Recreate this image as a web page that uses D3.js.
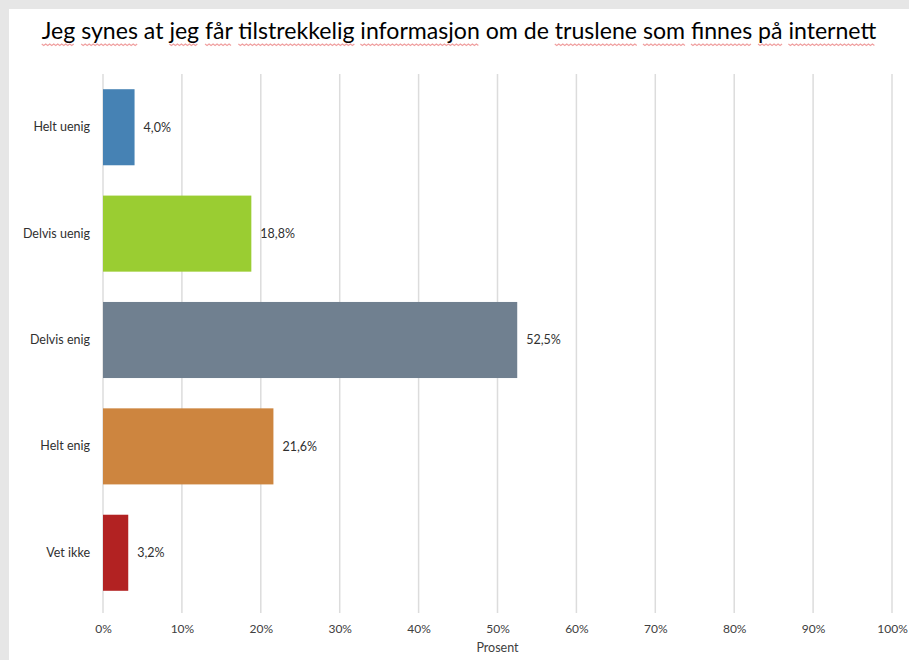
<!DOCTYPE html>
<html>
<head>
<meta charset="utf-8">
<script src="https://cdn.jsdelivr.net/npm/d3@7"></script>
<style>
  html, body { margin: 0; background: #fff; overflow: hidden; }
  svg { display: block; font-family: "Lato", "Open Sans", sans-serif; }
</style>
</head>
<body>
<div id="chart"></div>
<script>
// data
var titleWords = ["Jeg", "synes", "at", "jeg", "får", "tilstrekkelig", "informasjon", "om", "de", "truslene", "som", "finnes", "på", "internett"];
var flagged = [true, true, false, true, true, true, true, false, false, true, true, true, true, true];
var categories = ["Helt uenig", "Delvis uenig", "Delvis enig", "Helt enig", "Vet ikke"];
var values = [4.0, 18.8, 52.5, 21.6, 3.2];
var colors = ["steelblue", "yellowgreen", "slategray", "peru", "firebrick"];
var ticks = [0, 10, 20, 30, 40, 50, 60, 70, 80, 90, 100];
var axisTitle = "Prosent";

var W = 909, H = 660;
var margin = {left: 103, right: 17, top: 74, bottom: 54};

var svg = d3.select('#chart').append('svg')
  .attr('width', W)
  .attr('height', H);

// slide-ish frame with grey edge on top and left
svg.append('rect').attr('width', W).attr('height', H).attr('fill', '#e6e6e6');
svg.append('rect').attr('x', 9).attr('y', 9).attr('width', W).attr('height', H).attr('fill', '#fff');

var x = d3.scaleLinear().domain([0, 100]).range([margin.left, W - margin.right]);
var y = d3.scaleBand().domain(categories)
  .range([margin.top, H - margin.bottom])
  .paddingInner(0.285).paddingOuter(0.143);

// gridlines
svg.append('g').selectAll('line').data(ticks).enter().append('line')
  .attr('x1', function (d) { return x(d); })
  .attr('x2', function (d) { return x(d); })
  .attr('y1', margin.top)
  .attr('y2', H - margin.bottom + 7)
  .attr('stroke', '#dcdcdc')
  .attr('stroke-width', 1.5);

// x axis labels
var xAxis = d3.axisBottom(x).tickValues(ticks)
  .tickSize(0).tickPadding(0)
  .tickFormat(function (d) { return d + '%'; });
var gx = svg.append('g')
  .attr('transform', 'translate(0,' + (H - margin.bottom + 27) + ')')
  .call(xAxis);
gx.select('.domain').remove();
gx.selectAll('text')
  .attr('dy', 0)
  .attr('font-size', 12)
  .attr('font-family', 'Lato, sans-serif')
  .attr('fill', '#404040');

svg.append('text')
  .attr('x', (x(0) + x(100)) / 2)
  .attr('y', H - 8)
  .attr('text-anchor', 'middle')
  .attr('font-size', 12.5)
  .attr('fill', '#404040')
  .text(axisTitle);

// y axis labels
var yAxis = d3.axisLeft(y).tickSize(0).tickPadding(13);
var gy = svg.append('g')
  .attr('transform', 'translate(' + margin.left + ',0)')
  .call(yAxis);
gy.select('.domain').remove();
gy.selectAll('text')
  .attr('font-size', 12.5)
  .attr('font-family', 'Lato, sans-serif')
  .attr('fill', '#303030');

// bars
svg.append('g').selectAll('rect').data(values).enter().append('rect')
  .attr('x', x(0))
  .attr('y', function (d, i) { return y(categories[i]); })
  .attr('width', function (d) { return x(d) - x(0); })
  .attr('height', y.bandwidth())
  .attr('fill', function (d, i) { return colors[i]; });

// value labels
svg.append('g').selectAll('text').data(values).enter().append('text')
  .attr('x', function (d) { return x(d) + 9; })
  .attr('y', function (d, i) { return y(categories[i]) + y.bandwidth() / 2; })
  .attr('dy', '0.35em')
  .attr('font-size', 12.5)
  .attr('fill', '#303030')
  .text(function (d) { return d.toFixed(1).replace('.', ',') + '%'; });

// title
var titleY = 39;
var title = svg.append('text')
  .attr('x', 459)
  .attr('y', titleY)
  .attr('text-anchor', 'middle')
  .attr('font-size', 23)
  .attr('fill', '#000')
  .text(titleWords.join(' '));
var tw = title.node().getComputedTextLength();
title.attr('font-size', 23 * 835 / tw);

// red spell-check squiggles under flagged words
var node = title.node();
var squig = svg.append('g')
  .attr('fill', 'none')
  .attr('stroke', '#f0a0a0')
  .attr('stroke-width', 1.2);
var pos = 0;
titleWords.forEach(function (w, i) {
  if (flagged[i]) {
    var x0 = node.getStartPositionOfChar(pos).x;
    var x1 = node.getEndPositionOfChar(pos + w.length - 1).x;
    var p = d3.path();
    var yy = titleY + 5;
    p.moveTo(x0, yy);
    var k = 0;
    for (var xx = x0 + 2; xx <= x1; xx += 2) {
      k++;
      p.lineTo(xx, yy + (k % 2 ? 1.5 : 0));
    }
    squig.append('path').attr('d', p.toString());
  }
  pos += w.length + 1;
});
</script>
</body>
</html>
